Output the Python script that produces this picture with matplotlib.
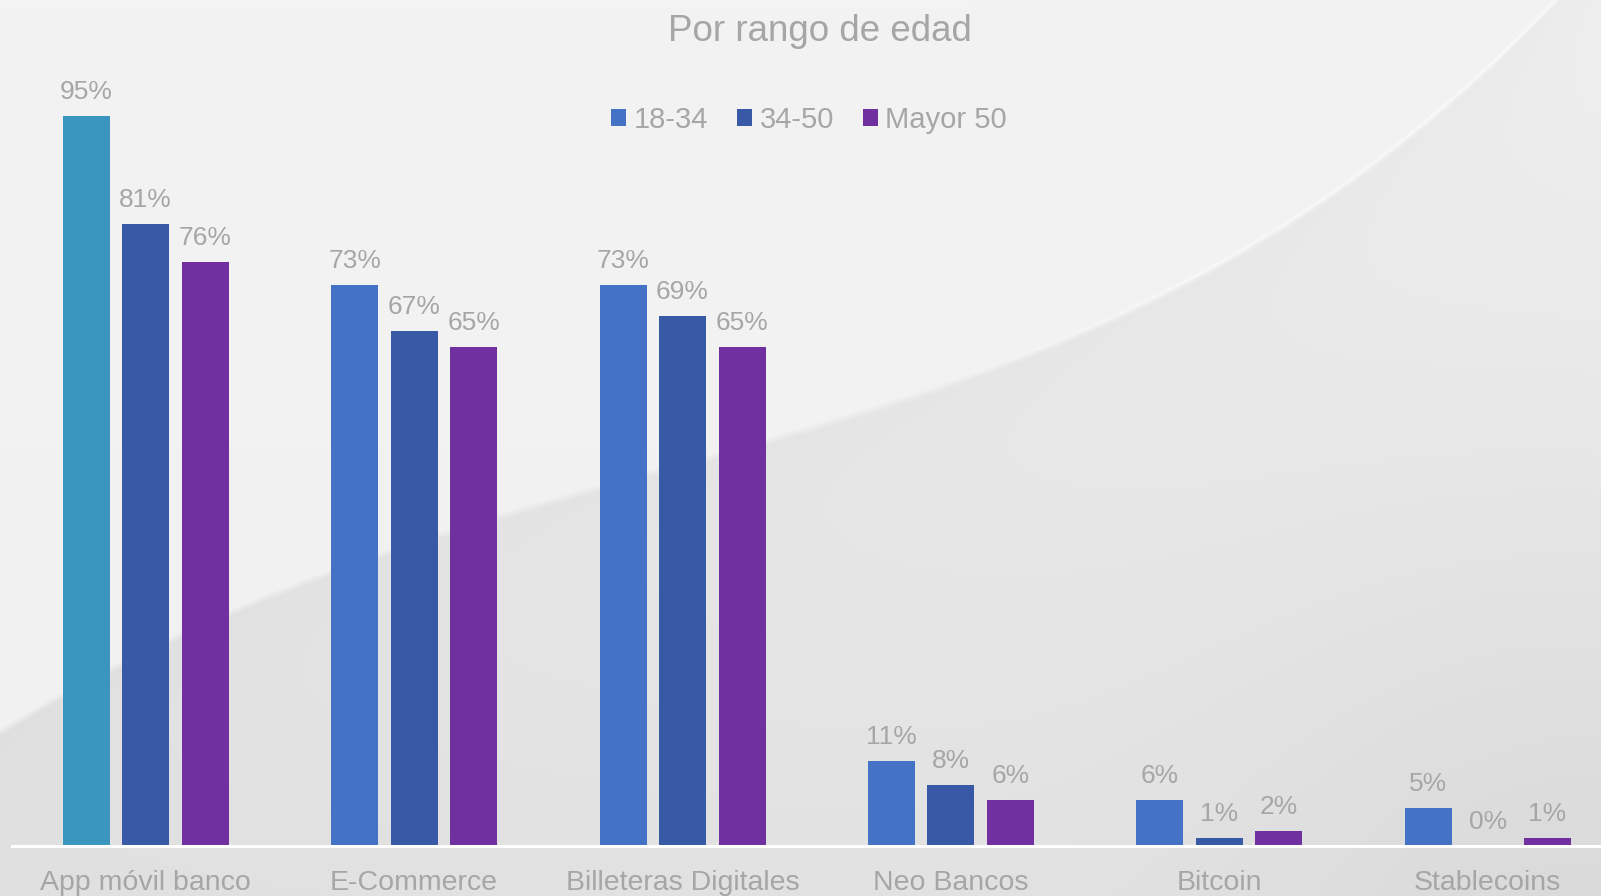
import matplotlib
matplotlib.use('Agg')
import matplotlib.pyplot as plt
from matplotlib.patches import Patch
from matplotlib.transforms import blended_transform_factory, offset_copy
import numpy as np

plt.rcParams['font.family'] = ['Liberation Sans', 'DejaVu Sans']

# Data
categories = ['App móvil banco', 'E-Commerce', 'Billeteras Digitales',
              'Neo Bancos', 'Bitcoin', 'Stablecoins']
series_names = ['18-34', '34-50', 'Mayor 50']
age_18_34 = [95, 73, 73, 11, 6, 5]
age_34_50 = [81, 67, 69, 8, 1, 0]
age_50_plus = [76, 65, 65, 6, 2, 1]

series_colors = ['#4472C4', '#3759A6', '#7030A0']
first_bar_color = '#3A96BE'
text_gray = '#A6A6A6'

W, H = 1601, 896
fig = plt.figure(figsize=(W / 100, H / 100), dpi=100)

# Background: light gray with a soft curved swoosh
bg_ax = fig.add_axes([0, 0, 1, 1])
bg_ax.axis('off')
cx = [0, 230, 510, 765, 1000, 1192, 1326, 1421, 1498, 1556]
cy = [733, 608, 517, 444, 360, 277, 207, 127, 60, 0]
coef = np.polyfit(cx, cy, 4)
xx, yy = np.meshgrid(np.arange(W), np.arange(H))
curve = np.polyval(coef, xx)
d = yy - curve
upper = 0.953 - 0.008 * (yy / H)
lower = (0.925 - 0.045 * (yy / H) + 0.012 * (xx / W)
         - 0.012 * np.exp(-np.maximum(d, 0) / 70.0))
t = np.clip(d / 8.0 + 0.5, 0, 1)
bg = upper * (1 - t) + lower * t
bg += 0.025 * np.exp(-((d + 3) / 2.0) ** 2) * np.clip((xx - 900) / 300, 0, 1)
bg -= 0.035 * np.exp(-((xx - 1601) ** 2 + (yy - 896) ** 2) / (2 * 260.0 ** 2))
bg = np.clip(bg, 0, 1)
bg_ax.imshow(np.dstack([bg, bg, bg]), aspect='auto', extent=(0, W, H, 0))
bg_ax.set_xlim(0, W)
bg_ax.set_ylim(H, 0)

# Main chart axes: map pixels to data
group_px = 268.4
first_center_px = 145.7
px_per_pct = 7.684
base_px = 50  # from bottom
ax = fig.add_axes([0, 0, 1, 1])
ax.patch.set_alpha(0)
ax.set_xlim(-first_center_px / group_px, (W - first_center_px) / group_px)
ax.set_ylim(-base_px / px_per_pct, (H - base_px) / px_per_pct)
ax.axis('off')

x = np.arange(len(categories))
offset = 59.5 / group_px
width = 47 / group_px
all_series = [age_18_34, age_34_50, age_50_plus]
tr_lab = offset_copy(ax.transData, fig=fig, x=0, y=17 * 72 / 100, units='points')
for k, (vals, col) in enumerate(zip(all_series, series_colors)):
    colors = [col] * len(vals)
    if k == 0:
        colors[0] = first_bar_color
    xs = x + (k - 1) * offset
    ax.bar(xs, vals, width=width, color=colors, edgecolor='none', zorder=2)
    for xi, v in zip(xs, vals):
        ax.text(xi, v, f'{v}%', transform=tr_lab, ha='center', va='baseline',
                fontsize=19, color=text_gray)

# baseline axis line
ax.axhline(0, xmin=12 / W, xmax=1, color='white', lw=2.2, zorder=3)

# category labels
tr_cat = blended_transform_factory(ax.transData, fig.transFigure)
for xi, lab in zip(x, categories):
    ax.text(xi, 6 / H, lab, transform=tr_cat, ha='center', va='baseline',
            fontsize=20.5, color=text_gray)

# title
fig.text(819.5 / W, 1 - 41 / H, 'Por rango de edad', ha='center', va='baseline',
         fontsize=26.5, color=text_gray)

# legend
handles = [Patch(facecolor=c, edgecolor='none') for c in series_colors]
fig.legend(handles, series_names, loc='center', bbox_to_anchor=(809 / W, 1 - 119.5 / H),
           ncol=3, frameon=False, fontsize=21, handlelength=0.52, handleheight=0.52,
           handletextpad=0.25, columnspacing=1.0, labelcolor=text_gray)

fig.savefig('out.png', dpi=100)
